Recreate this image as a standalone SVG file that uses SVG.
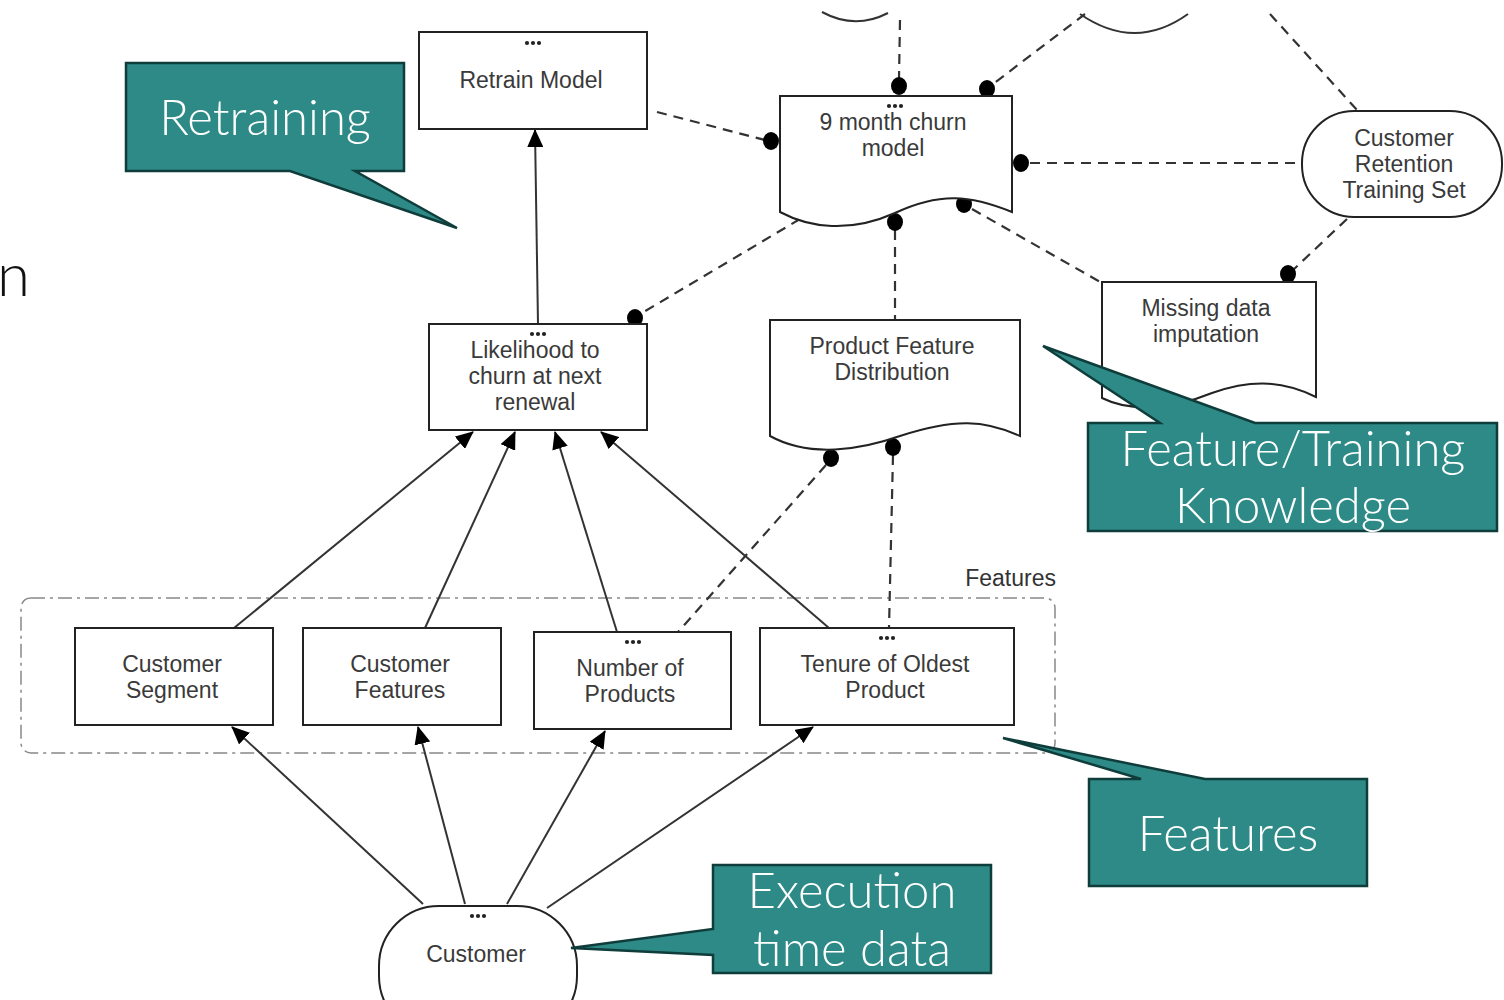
<svg xmlns="http://www.w3.org/2000/svg" width="1504" height="1000" viewBox="0 0 1504 1000">
<defs>
<marker id="arr" viewBox="0 0 18 16" refX="17" refY="8" markerWidth="18" markerHeight="16" markerUnits="userSpaceOnUse" orient="auto">
<path d="M0,0 L18,8 L0,16 Z" fill="#000"/>
</marker>
<g id="ell">
<circle cx="-6" cy="0" r="2.1" fill="#222"/>
<circle cx="0" cy="0" r="2.1" fill="#222"/>
<circle cx="6" cy="0" r="2.1" fill="#222"/>
</g>
<style>
.node{fill:#fff;stroke:#222;stroke-width:2}
.lbl{font-family:"Liberation Sans",Arial,sans-serif;font-size:23px;fill:#3a3a3a;text-anchor:middle}
.solid{stroke:#333;stroke-width:2;fill:none}
.dash{stroke:#333;stroke-width:2.2;fill:none;stroke-dasharray:10,7}
.dot{fill:#000}
.call{fill:#2E8A87;stroke:#0F3D3B;stroke-width:2.5}
.ctxt{font-family:Lato,"Open Sans",sans-serif;font-size:49px;font-weight:300;fill:#fff;text-anchor:middle}
.cont{fill:none;stroke:#888;stroke-width:1.5;stroke-dasharray:14,5,3,5}
</style>
</defs>
<rect width="1504" height="1000" fill="#fff"/>
<text x="-3" y="296" font-family="Lato,'Open Sans',sans-serif" font-size="60" font-weight="300" fill="#111">n</text>

<!-- partial top shapes -->
<path d="M822,12 Q855,30 888,13" class="solid"/>
<path d="M1080,14 Q1135,52 1188,14" class="solid"/>

<g id="features-group">
<rect x="21" y="598" width="1034" height="155" rx="10" class="cont"/>
<text x="1056" y="586" style="font-family:'Liberation Sans',Arial,sans-serif;font-size:23px;fill:#333;text-anchor:end">Features</text>
</g>

<g id="connectors">
<line x1="900" y1="20" x2="899" y2="78" class="dash"/>
<line x1="1085" y1="14" x2="993" y2="84" class="dash"/>
<line x1="1270" y1="14" x2="1357" y2="110" class="dash"/>
<line x1="657" y1="112" x2="765" y2="140" class="dash"/>
<line x1="1030" y1="163" x2="1302" y2="163" class="dash"/>
<line x1="1347" y1="219" x2="1293" y2="270" class="dash"/>
<line x1="972" y1="209" x2="1102" y2="283" class="dash"/>
<line x1="895" y1="230" x2="895" y2="320" class="dash"/>
<line x1="800" y1="219" x2="642" y2="313" class="dash"/>
<line x1="826" y1="465" x2="678" y2="632" class="dash"/>
<line x1="893" y1="455" x2="889" y2="628" class="dash"/>
<line x1="538" y1="324" x2="535" y2="130" class="solid" marker-end="url(#arr)"/>
<line x1="234" y1="628" x2="473" y2="432" class="solid" marker-end="url(#arr)"/>
<line x1="425" y1="628" x2="515" y2="432" class="solid" marker-end="url(#arr)"/>
<line x1="617" y1="632" x2="555" y2="432" class="solid" marker-end="url(#arr)"/>
<line x1="829" y1="628" x2="601" y2="432" class="solid" marker-end="url(#arr)"/>
<line x1="423" y1="904" x2="232" y2="727" class="solid" marker-end="url(#arr)"/>
<line x1="465" y1="904" x2="418" y2="727" class="solid" marker-end="url(#arr)"/>
<line x1="507" y1="904" x2="605" y2="731" class="solid" marker-end="url(#arr)"/>
<line x1="547" y1="908" x2="813" y2="727" class="solid" marker-end="url(#arr)"/>
<ellipse cx="899" cy="86" rx="8" ry="9" class="dot"/>
<ellipse cx="987" cy="89" rx="8" ry="9" class="dot"/>
<ellipse cx="771" cy="141" rx="8" ry="9" class="dot"/>
<ellipse cx="1021" cy="163" rx="8" ry="9" class="dot"/>
<ellipse cx="895" cy="222" rx="8" ry="9" class="dot"/>
<ellipse cx="964" cy="204" rx="8" ry="9" class="dot"/>
<ellipse cx="1288" cy="274" rx="8" ry="9" class="dot"/>
<ellipse cx="635" cy="318" rx="8" ry="9" class="dot"/>
<ellipse cx="831" cy="458" rx="8" ry="9" class="dot"/>
<ellipse cx="893" cy="447" rx="8" ry="9" class="dot"/>
</g>

<g id="retrain-model">
<rect x="419" y="32" width="228" height="97" class="node"/>
<use href="#ell" x="533" y="43"/>
<text x="531" y="88" class="lbl">Retrain Model</text>
</g>

<g id="churn-model">
<path d="M780,96 H1012 V212 C970,195 940,192 895,213 C850,233 810,228 780,212 Z" class="node"/>
<use href="#ell" x="895" y="106"/>
<text x="893" y="130" class="lbl">9 month churn</text>
<text x="893" y="156" class="lbl">model</text>
</g>

<g id="retention-set">
<rect x="1302" y="111" width="200" height="106" rx="52" class="node"/>
<text x="1404" y="146" class="lbl">Customer</text>
<text x="1404" y="172" class="lbl">Retention</text>
<text x="1404" y="198" class="lbl">Training Set</text>
</g>

<g id="missing-data">
<path d="M1102,282 H1316 V397 C1285,382 1255,378 1212,393 C1170,410 1130,412 1102,398 Z" class="node"/>
<text x="1206" y="316" class="lbl">Missing data</text>
<text x="1206" y="342" class="lbl">imputation</text>
</g>

<g id="product-dist">
<path d="M770,320 H1020 V436 C985,420 955,418 900,436 C860,450 810,458 770,436 Z" class="node"/>
<text x="892" y="354" class="lbl">Product Feature</text>
<text x="892" y="380" class="lbl">Distribution</text>
</g>

<g id="likelihood">
<rect x="429" y="324" width="218" height="106" class="node"/>
<use href="#ell" x="538" y="334"/>
<text x="535" y="358" class="lbl">Likelihood to</text>
<text x="535" y="384" class="lbl">churn at next</text>
<text x="535" y="410" class="lbl">renewal</text>
</g>

<g id="customer-segment">
<rect x="75" y="628" width="198" height="97" class="node"/>
<text x="172" y="672" class="lbl">Customer</text>
<text x="172" y="698" class="lbl">Segment</text>
</g>

<g id="customer-features">
<rect x="303" y="628" width="198" height="97" class="node"/>
<text x="400" y="672" class="lbl">Customer</text>
<text x="400" y="698" class="lbl">Features</text>
</g>

<g id="number-products">
<rect x="534" y="632" width="197" height="97" class="node"/>
<use href="#ell" x="633" y="642"/>
<text x="630" y="676" class="lbl">Number of</text>
<text x="630" y="702" class="lbl">Products</text>
</g>

<g id="tenure">
<rect x="760" y="628" width="254" height="97" class="node"/>
<use href="#ell" x="887" y="638"/>
<text x="885" y="672" class="lbl">Tenure of Oldest</text>
<text x="885" y="698" class="lbl">Product</text>
</g>

<g id="customer">
<rect x="379" y="906" width="198" height="130" rx="60" class="node"/>
<use href="#ell" x="478" y="916"/>
<text x="476" y="962" class="lbl">Customer</text>
</g>

<g id="callout-retraining">
<path d="M126,63 H404 V171 H355 L457,228 L290,171 H126 Z" class="call"/>
<text x="265" y="135" class="ctxt">Retraining</text>
</g>

<g id="callout-knowledge">
<path d="M1088,423 H1160 L1043,346 L1255,423 H1497 V531 H1088 Z" class="call"/>
<text x="1293" y="466" class="ctxt">Feature/Training</text>
<text x="1293" y="523" class="ctxt">Knowledge</text>
</g>

<g id="callout-features">
<path d="M1089,779 H1141 L1003,738 L1205,779 H1367 V886 H1089 Z" class="call"/>
<text x="1228" y="851" class="ctxt">Features</text>
</g>

<g id="callout-execution">
<path d="M713,865 H991 V973 H713 V955 L571,948 L713,929 Z" class="call"/>
<text x="852" y="908" class="ctxt">Execution</text>
<text x="852" y="966" class="ctxt">time data</text>
</g>
</svg>
